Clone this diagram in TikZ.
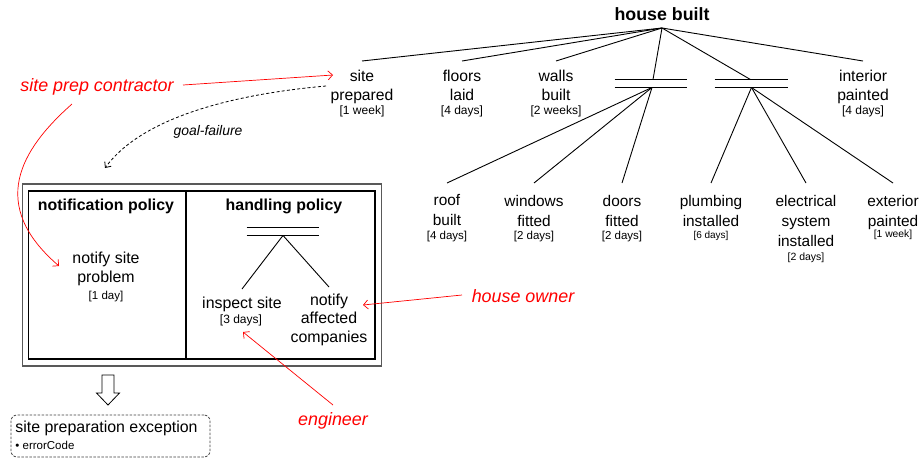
\documentclass[tikz,border=0pt]{standalone}
\usepackage{fontspec}
\setmainfont{Liberation Sans}
\usetikzlibrary{arrows.meta}
\newcommand\myfs[2]{\fontsize{#1}{#2}\selectfont}
\begin{document}
\begin{tikzpicture}[x=1pt,y=-1pt,
  line width=0.9pt,
  title/.style={font=\myfs{17.8}{20}\bfseries, inner xsep=0pt},
  task/.style={align=center, inner xsep=0pt},
  ttop/.style={task, font=\myfs{15.7}{19}, anchor=north, inner ysep=8.3pt},
  tbot/.style={task, font=\myfs{15.4}{20}, anchor=north, inner ysep=11.4pt},
  ptask/.style={task, font=\myfs{15.9}{18.6}, anchor=north},
  dur/.style={anchor=base, inner sep=0pt, font=\myfs{12}{14}},
  hdr/.style={anchor=base, inner sep=0pt, font=\myfs{15.9}{19}\bfseries},
  bar/.style={minimum width=72pt, minimum height=7pt, inner sep=0pt},
  role/.style={text=red, inner sep=0pt, font=\myfs{17.9}{20}\itshape},
  redarrow/.style={draw=red, line width=0.7pt, -{Straight Barb[length=4.5pt,width=9pt]}},
]
\useasboundingbox (0,0) rectangle (923,458);
\fill[white] (0,0) rectangle (923,458);

% ---------- main goal tree ----------
\node[title, anchor=south, inner ysep=6.6pt] (hb) at (662,28) {house built};

\node[ttop] (sp) at (362,61) {site\\prepared};
\node[dur] (spd) at (362,114) {[1 week]};
\node[ttop] (fl) at (462,61) {floors\\laid};
\node[dur] (fld) at (462,114) {[4 days]};
\node[ttop] (wb) at (556,61) {walls\\built};
\node[dur] (wbd) at (556,114) {[2 weeks]};
\node[ttop] (ip) at (863,61) {interior\\painted};
\node[dur] (ipd) at (863,114) {[4 days]};

\node[bar] (b1) at (651,83.5) {};
\node[bar, minimum width=73pt] (b2) at (751.5,83.5) {};
\draw (b1.north west) -- (b1.north east) (b1.south west) -- (b1.south east);
\draw (b2.north west) -- (b2.north east) (b2.south west) -- (b2.south east);

\draw (hb.south) -- (sp.north);
\draw (hb.south) -- (fl.north);
\draw (hb.south) -- (wb.north);
\draw (hb.south) -- ([xshift=2pt]b1.north);
\draw (hb.south) -- ([xshift=-1pt]b2.north);
\draw (hb.south) -- (ip.north);

\node[tbot] (rb) at (447,183) {roof\\built};
\node[dur, font=\myfs{11.5}{14}] (rbd) at (447,239) {[4 days]};
\node[tbot] (wf) at (534,183) {windows\\fitted};
\node[dur, font=\myfs{11.5}{14}] (wfd) at (534,239) {[2 days]};
\node[tbot] (df) at (622,183) {doors\\fitted};
\node[dur, font=\myfs{11.5}{14}] (dfd) at (622,239) {[2 days]};
\node[tbot] (pi) at (711,183) {plumbing\\installed};
\node[dur, font=\myfs{10}{12}] (pid) at (711,238.5) {[6 days]};
\node[tbot] (es) at (806,183) {electrical\\system\\installed};
\node[dur, font=\myfs{10.5}{12}] (esd) at (806,260) {[2 days]};
\node[tbot] (ep) at (893,183) {exterior\\painted};
\node[dur, font=\myfs{10.3}{12}] (epd) at (893,237) {[1 week]};

\draw ([xshift=1pt]b1.south) -- (rb.north);
\draw ([xshift=1pt]b1.south) -- (wf.north);
\draw ([xshift=1pt]b1.south) -- (df.north);
\draw (b2.south) -- (pi.north);
\draw (b2.south) -- (es.north);
\draw (b2.south) -- (ep.north);

% ---------- exception policy box ----------
\node[draw=black!65, line width=1.1pt, minimum width=359pt, minimum height=182pt, inner sep=0pt] (polo) at (202,275) {};
\node[draw=black, line width=1.3pt, minimum width=346.5pt, minimum height=168pt, inner sep=0pt] (poli) at (201.75,275) {};
\coordinate (divt) at (186,191);
\coordinate (divb) at (186,359);
\draw[line width=1.3pt] (divt) -- (divb);

\node[hdr] (np) at (106,210.5) {notification policy};
\node[hdr] (hp) at (284,210.5) {handling policy};

\node[ptask, inner sep=0pt] (nsp) at (106,251.5) {notify site\\problem};
\node[dur, font=\myfs{11.5}{14}] (nspd) at (106,299) {[1 day]};

\node[bar] (hbar) at (283,231.5) {};
\draw (hbar.north west) -- (hbar.north east) (hbar.south west) -- (hbar.south east);
\node[ptask, inner xsep=0pt, inner ysep=7.5pt] (is) at (242,289) {inspect site};
\node[dur] (isd) at (241,323.5) {[3 days]};
\node[ptask, inner xsep=0pt, inner ysep=6.4pt] (nac) at (329,287) {notify\\affected\\companies};
\draw (hbar.south) -- (is.north);
\draw (hbar.south) -- (nac.north);

% ---------- raised exception ----------
\draw[line width=0.8pt] (102,375) -- (114,375) -- (114,393) -- (119.5,393) -- (108,405)
  -- (96.5,393) -- (102,393) -- cycle;
\node[draw=black!75, line width=0.8pt, dash pattern=on 2.5pt off 1.5pt, rounded corners=6pt,
  minimum width=199pt, minimum height=42pt, inner sep=0pt] (exc) at (110.5,436) {};
\node[anchor=base west, inner sep=0pt, font=\myfs{15.9}{18}] (exct) at (15,432) {site preparation exception};
\node[anchor=base west, inner sep=0pt, font=\myfs{11.5}{14}] (exca) at (15,449.5) {\textbullet\ errorCode};

% ---------- goal failure ----------
\coordinate (gfs) at (326,86);
\coordinate (gfe) at (105,168);
\draw[line width=0.8pt, dash pattern=on 3pt off 2.2pt, -{Straight Barb[length=4.5pt,width=8pt]}]
  (gfs) .. controls (225,95) and (140,120) .. (gfe);
\node[inner sep=0pt, font=\myfs{13.9}{16}\itshape] (gf) at (208,131.5) {goal-failure};

% ---------- roles ----------
\node[role] (spc) at (97,87) {site prep contractor};
\coordinate (spc-a) at (183,85);
\coordinate (spc-b) at (72,104);
\coordinate (sp-in) at (333,75);
\coordinate (nsp-in) at (59,266);
\draw[redarrow] (spc-a) -- (sp-in);
\draw[redarrow] (spc-b) .. controls (20,150) and (-12,205) .. (nsp-in);

\node[role] (ho) at (523,296) {house owner};
\coordinate (ho-a) at (462,295);
\coordinate (nac-in) at (363,305);
\draw[redarrow] (ho-a) -- (nac-in);

\node[role] (en) at (333,421) {engineer};
\coordinate (en-a) at (333,405);
\coordinate (is-in) at (243,332);
\draw[redarrow] (en-a) -- (is-in);
\end{tikzpicture}
\end{document}
